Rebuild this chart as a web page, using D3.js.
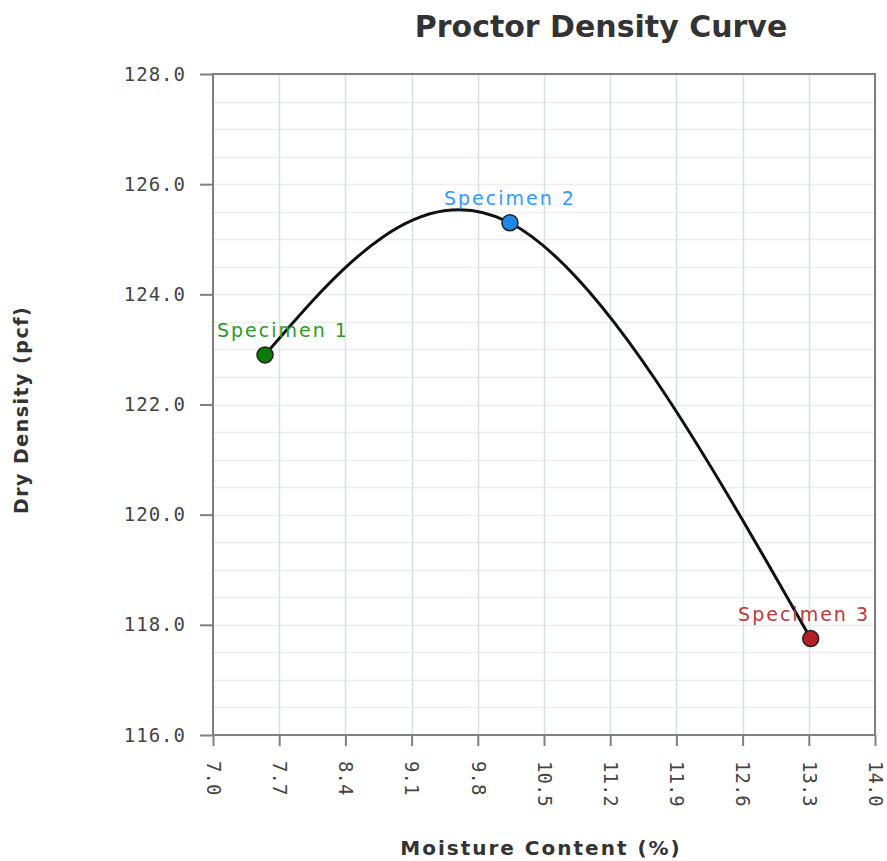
<!DOCTYPE html>
<html>
<head>
<meta charset="utf-8">
<script src="https://cdn.jsdelivr.net/npm/d3@7"></script>
<style>
  body { margin: 0; background: #fff; }
</style>
</head>
<body>
<div id="chart"></div>
<script>
// data
const specimens = ["Specimen 1", "Specimen 2", "Specimen 3"];
const moisture = [7.55, 10.14, 13.32];
const density = [122.9, 125.3, 117.75];
const pointColors = ["#0b7a0b", "#1e88e8", "#b21f24"];
const labelColors = ["#2a9a2a", "#3399ff", "#c0393b"];
const xTickValues = [7.0, 7.7, 8.4, 9.1, 9.8, 10.5, 11.2, 11.9, 12.6, 13.3, 14.0];
const yTickValues = [116, 118, 120, 122, 124, 126, 128];

let width = 887, height = 861;
let plotL = 213, plotR = 875, plotT = 74, plotB = 735;

let svg = d3.select("#chart")
    .append("svg")
    .attr("width", width)
    .attr("height", height);

let x = d3.scaleLinear().domain([7, 14]).range([plotL, plotR]);
let y = d3.scaleLinear().domain([116, 128]).range([plotB, plotT]);

// minor horizontal grid
svg.append("g")
    .selectAll("line")
    .data(y.ticks(24))
    .join("line")
    .attr("x1", plotL)
    .attr("x2", plotR)
    .attr("y1", d => Math.round(y(d)) + 0.5)
    .attr("y2", d => Math.round(y(d)) + 0.5)
    .style("stroke", "#eaeef1")
    .style("stroke-width", 1.5);

// vertical grid
svg.append("g")
    .selectAll("line")
    .data(xTickValues)
    .join("line")
    .attr("x1", d => Math.round(x(d)) + 0.5)
    .attr("x2", d => Math.round(x(d)) + 0.5)
    .attr("y1", plotT)
    .attr("y2", plotB)
    .style("stroke", "#d5e0ea")
    .style("stroke-width", 1.5);

// frame
svg.append("rect")
    .attr("x", plotL)
    .attr("y", plotT)
    .attr("width", plotR - plotL)
    .attr("height", plotB - plotT)
    .attr("fill", "none")
    .style("stroke", "#808080")
    .style("stroke-width", 2);

let xAxis = svg.append("g")
    .attr("transform", `translate(0,${plotB})`)
    .call(d3.axisBottom(x).tickValues(xTickValues).tickFormat(d3.format(".1f")).tickSize(11).tickSizeOuter(0));
xAxis.select(".domain").remove();
xAxis.selectAll("line").style("stroke", "#808080").style("stroke-width", 2);
xAxis.selectAll("text")
    .attr("transform", "rotate(90)")
    .attr("x", 26)
    .attr("y", 0)
    .attr("dy", "0.35em")
    .style("text-anchor", "start")
    .style("font-family", "DejaVu Sans Mono")
    .style("font-size", "19px")
    .style("fill", "#444");

let yAxis = svg.append("g")
    .attr("transform", `translate(${plotL},0)`)
    .call(d3.axisLeft(y).tickValues(yTickValues).tickFormat(d3.format(".1f")).tickSize(13).tickSizeOuter(0));
yAxis.select(".domain").remove();
yAxis.selectAll("line").style("stroke", "#808080").style("stroke-width", 2);
yAxis.selectAll("text")
    .attr("x", -27)
    .style("font-family", "DejaVu Sans Mono")
    .style("font-size", "19px")
    .style("letter-spacing", "1px")
    .style("fill", "#444");

// curve
let pts = moisture.map((m, i) => [x(m), y(density[i])]);
svg.append("path")
    .attr("d", d3.line().curve(d3.curveNatural)(pts))
    .attr("fill", "none")
    .style("stroke", "#111")
    .style("stroke-width", 3);

svg.append("g")
    .selectAll("circle")
    .data(pts)
    .join("circle")
    .attr("cx", d => d[0])
    .attr("cy", d => d[1])
    .attr("r", 8)
    .attr("fill", (d, i) => pointColors[i])
    .style("stroke", "#222")
    .style("stroke-width", 1.5);

// labels, kept inside the plot area
let labels = svg.append("g")
    .selectAll("text")
    .data(pts)
    .join("text")
    .attr("y", d => d[1] - 18)
    .text((d, i) => specimens[i])
    .attr("fill", (d, i) => labelColors[i])
    .style("font-family", "DejaVu Sans")
    .style("font-size", "19px")
    .style("letter-spacing", "2px");
labels.each(function (d) {
    let w = this.getComputedTextLength();
    let lx = d[0] - w / 2;
    lx = Math.max(plotL + 4, Math.min(plotR - 5 - w, lx));
    d3.select(this).attr("x", lx);
});

svg.append("text")
    .attr("x", 601)
    .attr("y", 37)
    .attr("text-anchor", "middle")
    .text("Proctor Density Curve")
    .style("font-family", "DejaVu Sans")
    .style("font-weight", "bold")
    .style("font-size", "30px")
    .style("fill", "#333");

svg.append("text")
    .attr("x", 541)
    .attr("y", 855)
    .attr("text-anchor", "middle")
    .text("Moisture Content (%)")
    .style("font-family", "DejaVu Sans")
    .style("font-weight", "bold")
    .style("font-size", "20px")
    .style("letter-spacing", "2px")
    .style("fill", "#333");

svg.append("text")
    .attr("transform", "translate(28,410) rotate(-90)")
    .attr("text-anchor", "middle")
    .text("Dry Density (pcf)")
    .style("font-family", "DejaVu Sans")
    .style("font-weight", "bold")
    .style("font-size", "19px")
    .style("letter-spacing", "1.5px")
    .style("fill", "#333");
</script>
</body>
</html>
